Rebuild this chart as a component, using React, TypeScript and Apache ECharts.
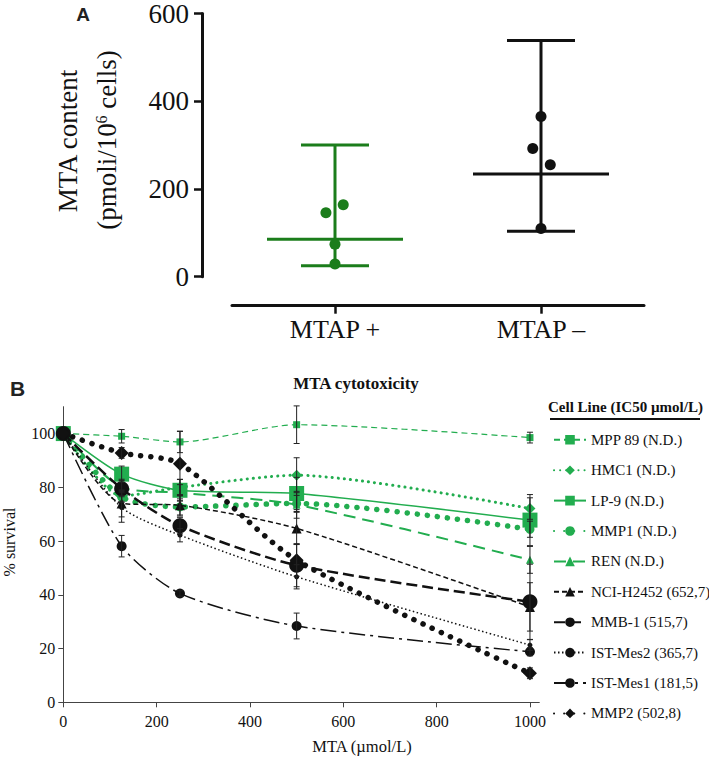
import React, { useEffect, useRef } from "react";
import * as echarts from "echarts";

// ---------- Panel A data ----------
const groupsA = ["MTAP +", "MTAP –"];
const groupPosA = [1, 2];
const mtapPosValues = [145.6, 164, 74, 29];
const mtapPosJitter = [-0.044, 0.04, 0, 0];
const mtapNegValues = [365, 292.5, 255, 110];
const mtapNegJitter = [0, -0.04, 0.045, 0];
const centerA = [85.5, 234];
const lowA = [25, 103.5];
const highA = [300, 538.6];
const yTicksA = [0, 200, 400, 600];

// ---------- Panel B data ----------
const doses = [0, 125, 250, 500, 1000];
const xTicksB = [0, 200, 400, 600, 800, 1000];
const yTicksB = [0, 20, 40, 60, 80, 100];
const cellLines = [
  "MPP 89 (N.D.)",
  "HMC1 (N.D.)",
  "LP-9 (N.D.)",
  "MMP1 (N.D.)",
  "REN (N.D.)",
  "NCI-H2452 (652,7)",
  "MMB-1 (515,7)",
  "IST-Mes2 (365,7)",
  "IST-Mes1 (181,5)",
  "MMP2 (502,8)",
];
const mpp89 = [100, 99, 96.9, 103.3, 98.5];
const hmc1 = [100, 76.8, 80, 84.5, 72.1];
const lp9 = [100, 84.9, 78.9, 77.7, 67.8];
const mmp1 = [100, 76.4, 72.7, 74, 64.4];
const ren = [100, 80, 78, 73.5, 53];
const nciH2452 = [100, 74, 73.3, 64.7, 35.5];
const mmb1 = [100, 79.5, 65.7, 51, 37.4];
const istMes2 = [100, 72.5, 62.2, 46.7, 21.3];
const istMes1 = [100, 58.1, 40.5, 28.4, 18.8];
const mmp2 = [100, 92.8, 88.8, 52.9, 10.8];

const mpp89Err = [0, 2.5, 4, 7, 2];
const hmc1Err = [0, 2, 3, 6.5, 4];
const lp9Err = [0, 3, 4, 6, 9.5];
const mmp1Err = [0, 2, 3, 3, 3];
const renErr = [0, 3, 3, 5, 5];
const nciErr = [0, 5, 4, 6, 9];
const mmb1Err = [0, 3, 3, 8, 14];
const istMes2Err = [0, 5.5, 2.5, 4.5, 2];
const istMes1Err = [0, 4, 1, 4.8, 1.5];
const mmp2Err = [0, 2, 12, 6, 2];

const seriesValues = [mpp89, hmc1, lp9, mmp1, ren, nciH2452, mmb1, istMes2, istMes1, mmp2];
const seriesErrors = [mpp89Err, hmc1Err, lp9Err, mmp1Err, renErr, nciErr, mmb1Err, istMes2Err, istMes1Err, mmp2Err];

// ---------- Styles ----------
const G = "#22ad4f";
const K = "#111111";
const GA = "#1b7d1b";
const SERIF = "'Liberation Serif', 'Times New Roman', serif";
const SANS = "'Liberation Sans', Arial, sans-serif";

const lineLook: any[] = [
  { color: G, type: [6, 4], width: 1.2, cap: "butt", symbol: "rect", size: 7 },
  { color: G, type: [0.1, 6], width: 3, cap: "round", symbol: "diamond", size: 11 },
  { color: G, type: "solid", width: 1.5, cap: "butt", symbol: "rect", size: 15 },
  { color: G, type: [0.1, 10], width: 5.5, cap: "round", symbol: "circle", size: 9 },
  { color: G, type: [12, 7], width: 2, cap: "butt", symbol: "triangle", size: 8 },
  { color: K, type: [5, 3], width: 1.5, cap: "butt", symbol: "triangle", size: 10 },
  { color: K, type: [11, 5], width: 2.5, cap: "butt", symbol: "circle", size: 15 },
  { color: K, type: [1.5, 2.5], width: 1.5, cap: "butt", symbol: "circle", size: 5 },
  { color: K, type: [16, 5, 3, 5], width: 1.5, cap: "butt", symbol: "circle", size: 10 },
  { color: K, type: [0.1, 10], width: 5.5, cap: "round", symbol: "diamond", size: 14 },
];

function buildOption(): any {
  const colorsA = [GA, K];

  const aBars = {
    type: "custom",
    xAxisIndex: 0,
    yAxisIndex: 0,
    silent: true,
    data: groupPosA.map((g, i) => [g, centerA[i], lowA[i], highA[i]]),
    renderItem: (params: any, api: any) => {
      const x = api.value(0);
      const pm = api.coord([x, api.value(1)]);
      const pl = api.coord([x, api.value(2)]);
      const ph = api.coord([x, api.value(3)]);
      const style = { stroke: colorsA[params.dataIndex], lineWidth: 3 };
      return {
        type: "group",
        children: [
          { type: "line", shape: { x1: pl[0], y1: pl[1], x2: ph[0], y2: ph[1] }, style },
          { type: "line", shape: { x1: pl[0] - 34, y1: pl[1], x2: pl[0] + 34, y2: pl[1] }, style },
          { type: "line", shape: { x1: ph[0] - 34, y1: ph[1], x2: ph[0] + 34, y2: ph[1] }, style },
          { type: "line", shape: { x1: pm[0] - 68, y1: pm[1], x2: pm[0] + 68, y2: pm[1] }, style },
        ],
      };
    },
  };

  const aPos = {
    type: "scatter",
    xAxisIndex: 0,
    yAxisIndex: 0,
    silent: true,
    symbolSize: 11,
    itemStyle: { color: GA, opacity: 1 },
    data: mtapPosValues.map((v, i) => [groupPosA[0] + mtapPosJitter[i], v]),
  };
  const aNeg = {
    type: "scatter",
    xAxisIndex: 0,
    yAxisIndex: 0,
    silent: true,
    symbolSize: 11,
    itemStyle: { color: K, opacity: 1 },
    data: mtapNegValues.map((v, i) => [groupPosA[1] + mtapNegJitter[i], v]),
  };

  const lines = cellLines.map((name, s) => {
    const lk = lineLook[s];
    return {
      type: "line",
      name,
      xAxisIndex: 1,
      yAxisIndex: 1,
      smooth: 0.25,
      silent: true,
      symbol: lk.symbol,
      symbolSize: lk.size,
      itemStyle: { color: lk.color, borderWidth: 0 },
      lineStyle: { color: lk.color, type: lk.type, width: lk.width, cap: lk.cap },
      data: doses.map((d, i) => [d, seriesValues[s][i]]),
      z: 3 + s * 0.01,
    };
  });

  const errData: number[][] = [];
  seriesValues.forEach((vals, s) => {
    vals.forEach((v, i) => {
      if (seriesErrors[s][i] > 0) errData.push([doses[i], v, seriesErrors[s][i]]);
    });
  });

  const bErr = {
    type: "custom",
    xAxisIndex: 1,
    yAxisIndex: 1,
    silent: true,
    z: 4,
    data: errData,
    renderItem: (params: any, api: any) => {
      const x = api.value(0);
      const y = api.value(1);
      const e = api.value(2);
      const pt = api.coord([x, y + e]);
      const pb = api.coord([x, y - e]);
      const style = { stroke: "#222", lineWidth: 1 };
      return {
        type: "group",
        children: [
          { type: "line", shape: { x1: pt[0], y1: pt[1], x2: pb[0], y2: pb[1] }, style },
          { type: "line", shape: { x1: pt[0] - 3, y1: pt[1], x2: pt[0] + 3, y2: pt[1] }, style },
          { type: "line", shape: { x1: pb[0] - 3, y1: pb[1], x2: pb[0] + 3, y2: pb[1] }, style },
        ],
      };
    },
  };

  return {
    animation: false,
    backgroundColor: "#ffffff",
    grid: [
      { left: 232, top: 10, width: 412, height: 266.7 },
      { left: 63.3, top: 406.7, width: 476, height: 295.6 },
    ],
    xAxis: [
      {
        type: "value",
        gridIndex: 0,
        min: 0.5,
        max: 2.5,
        offset: 29,
        splitLine: { show: false },
        axisLine: { show: true, onZero: false, lineStyle: { color: K, width: 3 } },
        axisTick: { show: true, customValues: groupPosA, length: 8, lineStyle: { color: K, width: 2.5 } },
        axisLabel: {
          customValues: groupPosA,
          formatter: (v: number) => groupsA[groupPosA.indexOf(Math.round(v))] ?? "",
          fontFamily: SERIF,
          fontSize: 26,
          color: K,
          margin: 11,
        },
      },
      {
        type: "value",
        gridIndex: 1,
        min: 0,
        max: 1020,
        splitLine: { show: false },
        axisLine: { show: true, onZero: false, lineStyle: { color: "#444", width: 1 } },
        axisTick: { show: true, customValues: xTicksB, length: 5, lineStyle: { color: "#444", width: 1 } },
        axisLabel: {
          customValues: xTicksB,
          formatter: (v: number) => String(v),
          fontFamily: SERIF,
          fontSize: 16,
          color: K,
          margin: 11,
        },
      },
    ],
    yAxis: [
      {
        type: "value",
        gridIndex: 0,
        min: 0,
        max: 600,
        offset: 30,
        splitLine: { show: false },
        axisLine: { show: true, onZero: false, lineStyle: { color: K, width: 3 } },
        axisTick: { show: true, customValues: yTicksA, length: 8, lineStyle: { color: K, width: 2.5 } },
        axisLabel: {
          customValues: yTicksA,
          formatter: (v: number) => String(v),
          fontFamily: SERIF,
          fontSize: 27,
          color: K,
          margin: 13,
        },
      },
      {
        type: "value",
        gridIndex: 1,
        min: 0,
        max: 110,
        splitLine: { show: false },
        axisLine: { show: true, onZero: false, lineStyle: { color: "#444", width: 1 } },
        axisTick: { show: true, customValues: yTicksB, length: 5, lineStyle: { color: "#444", width: 1 } },
        axisLabel: {
          customValues: yTicksB,
          formatter: (v: number) => String(v),
          fontFamily: SERIF,
          fontSize: 16,
          color: K,
          margin: 8,
        },
      },
    ],
    legend: {
      data: cellLines,
      orient: "vertical",
      left: 553,
      top: 432.3,
      padding: 0,
      itemWidth: 32,
      itemHeight: 12,
      itemGap: 15.4,
      selectedMode: false,
      textStyle: { fontFamily: SERIF, fontSize: 15, color: K },
    },
    graphic: [
      { type: "text", x: 83, y: 14, style: { text: "A", font: `bold 19px ${SANS}`, fill: "#222", align: "center", verticalAlign: "middle" } },
      { type: "text", x: 17.5, y: 388, style: { text: "B", font: `bold 21px ${SANS}`, fill: "#222", align: "center", verticalAlign: "middle" } },
      { type: "text", x: 68, y: 141, rotation: Math.PI / 2, style: { text: "MTA content", font: `27px ${SERIF}`, fill: K, align: "center", verticalAlign: "middle" } },
      {
        type: "text",
        x: 107,
        y: 140,
        rotation: Math.PI / 2,
        style: {
          text: "(pmoli/10{sup|6} cells)",
          font: `27px ${SERIF}`,
          fill: K,
          align: "center",
          verticalAlign: "middle",
          rich: { sup: { fontSize: 16, fontFamily: SERIF, verticalAlign: "top", fill: K } },
        },
      },
      { type: "text", x: 356, y: 383, style: { text: "MTA cytotoxicity", font: `bold 17px ${SERIF}`, fill: K, align: "center", verticalAlign: "middle" } },
      { type: "text", x: 9, y: 542, rotation: Math.PI / 2, style: { text: "% survival", font: `16px ${SERIF}`, fill: K, align: "center", verticalAlign: "middle" } },
      { type: "text", x: 362, y: 746, style: { text: "MTA (µmol/L)", font: `16.5px ${SERIF}`, fill: K, align: "center", verticalAlign: "middle" } },
      { type: "text", x: 548, y: 407, style: { text: "Cell Line (IC50 µmol/L)", font: `bold 15px ${SERIF}`, fill: K, align: "left", verticalAlign: "middle" } },
      { type: "line", shape: { x1: 550, y1: 419, x2: 700, y2: 419 }, style: { stroke: K, lineWidth: 2 } },
    ],
    series: [aBars, aPos, aNeg, ...lines, bErr],
  };
}

export default function App() {
  const ref = useRef<HTMLDivElement>(null);
  useEffect(() => {
    document.body.style.margin = "0";
    if (!ref.current) return;
    const chart = echarts.init(ref.current, undefined, { renderer: "svg" });
    chart.setOption(buildOption());
    return () => chart.dispose();
  }, []);
  return <div ref={ref} style={{ position: "absolute", left: 0, top: 0, width: 709, height: 757 }} />;
}
